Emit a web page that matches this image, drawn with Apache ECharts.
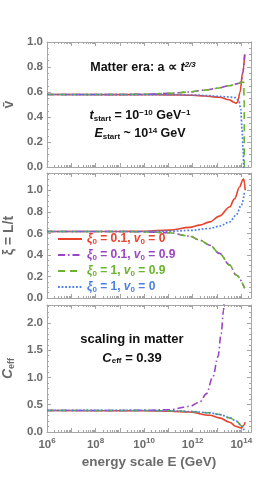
<!DOCTYPE html>
<html><head><meta charset="utf-8">
<script src="https://cdn.jsdelivr.net/npm/echarts@6/dist/echarts.min.js"></script>
<style>html,body{margin:0;padding:0;background:#fff}#c{width:266px;height:485px}</style>
</head><body><div id="c"></div>
<script>
// x values are log10(E / GeV)
const seriesNames = ['red', 'purple', 'green', 'blue'];
const vbarRed = [[6,0.58],[10,0.579],[11,0.577],[12,0.574],[12.5,0.568],[13.1,0.558],[13.5,0.538],[13.7,0.518],[13.77,0.51],[13.85,0.52],[13.95,0.6],[14.05,0.75],[14.14,0.9]];
const vbarPurple = [[6,0.58],[9,0.58],[10,0.582],[11,0.589],[11.87,0.6],[12.5,0.615],[13,0.63],[13.5,0.65],[13.85,0.667],[14.0,0.68],[14.07,0.76],[14.14,0.9]];
const vbarGreen = [[6,0.58],[9,0.58],[10,0.582],[11,0.589],[11.87,0.6],[12.5,0.615],[13,0.63],[13.5,0.65],[13.85,0.667],[14.0,0.675],[14.1,0.68],[14.12,0.5],[14.125,0],[14.125,-0.1]];
const vbarBlue = [[6,0.58],[11,0.579],[12,0.576],[12.5,0.572],[13,0.566],[13.5,0.56],[13.77,0.555],[13.9,0.53],[13.98,0.46],[14.03,0.3],[14.08,0.13],[14.1,0],[14.1,-0.1]];

const xiRed = [[6,0.617],[9,0.617],[10,0.62],[11.05,0.63],[11.87,0.655],[12.29,0.676],[12.7,0.706],[13.1,0.76],[13.52,0.845],[13.72,0.92],[13.93,1.03],[14.07,1.10],[14.1,1.105],[14.13,1.07],[14.16,1.0]];
const xiPurple = [[6,0.617],[9,0.617],[10,0.614],[11.05,0.605],[11.87,0.574],[12.29,0.537],[12.7,0.49],[13.1,0.414],[13.52,0.306],[13.79,0.213],[14.14,0.09]];
const xiGreen = [[6,0.617],[9,0.617],[10,0.614],[11.05,0.605],[11.87,0.574],[12.29,0.537],[12.7,0.49],[13.1,0.414],[13.52,0.306],[13.79,0.213],[14.14,0.09]];
const xiBlue = [[6,0.617],[10,0.617],[11.05,0.62],[11.87,0.627],[12.7,0.645],[13.1,0.667],[13.52,0.706],[13.79,0.77],[14.0,0.86],[14.14,0.99]];

const ceffRed = [[6,0.395],[10,0.39],[11.05,0.38],[11.87,0.367],[12.7,0.306],[13.1,0.26],[13.52,0.18],[13.79,0.10],[14.0,0.073],[14.09,0.12],[14.16,0.18]];
const ceffPurple = [[6,0.395],[9,0.395],[10,0.398],[11.05,0.41],[11.87,0.47],[12.29,0.55],[12.56,0.70],[12.83,1.01],[13.04,1.38],[13.17,1.8],[13.27,2.23],[13.3,2.5]];
const ceffGreen = [[6,0.395],[10,0.395],[11.05,0.39],[11.87,0.375],[12.7,0.35],[13.1,0.32],[13.52,0.26],[13.79,0.20],[14.04,0.10],[14.14,0.07]];
const ceffBlue = [[6,0.395],[10,0.395],[11.05,0.39],[11.87,0.376],[12.7,0.352],[13.1,0.322],[13.52,0.262],[13.79,0.2],[14.04,0.1],[14.12,0.04],[14.17,0]];

const xTickLabels = ['10', '6', '8', '10', '12', '14'];
const legendXi0 = ['0.1', '0.1', '1', '1'];
const legendV0 = ['0', '0.9', '0.9', '0'];

const colors = {red:'#E8432F', purple:'#9B44C4', green:'#6AB42D', blue:'#4C7FE6'};
const dashes = {red:'solid', purple:[7,3,1.5,3], green:[7,5], blue:[1.8,1.8]};
const GRAY = '#6b6b6b', FRAME = '#a6a6a6', FONT = 'Liberation Sans';

const grids = [
  {left:47, right:15, top:42, height:125, outerBoundsMode:'none', containLabel:false},
  {left:47, right:15, top:173, height:125, outerBoundsMode:'none', containLabel:false},
  {left:47, right:15, top:305, height:127, outerBoundsMode:'none', containLabel:false}
];
const yCfg = [
  {min:0, max:1.0, interval:0.2, minor:4, name:'v\u0304', gap:30, showMax:true},
  {min:0, max:1.16, interval:0.2, minor:4, name:'\u03BE = L/t', gap:30, showMax:false},
  {min:0, max:2.33, interval:0.5, minor:5, name:'{c|C}{cs|eff}', gap:28, showMax:false}
];
const minorX = [];
for (let d = 6; d <= 14; d++) for (let k = 2; k <= 9; k++) { const v = d + Math.log10(k); if (v < 14.4) minorX.push(v); }

const xAxes = [], yAxes = [];
grids.forEach((g, i) => {
  const last = i === 2;
  const base = {gridIndex:i, type:'value', min:6, max:14.4, interval:1, splitLine:{show:false}};
  xAxes.push(Object.assign({}, base, {
    position:'bottom',
    axisLine:{show:true, onZero:false, lineStyle:{color:FRAME, width:1}},
    axisTick:{show:true, inside:true, length:4, lineStyle:{color:FRAME}},
    axisLabel:{show:last, margin:5, showMaxLabel:false,
      formatter: v => (v % 2 === 0 && v <= 14) ? '{b|' + xTickLabels[0] + '}{s|' + xTickLabels[(v - 4) / 2] + '}' : '',
      rich:{b:{fontFamily:FONT, fontWeight:'bold', fontSize:11.5, color:GRAY},
            s:{fontFamily:FONT, fontWeight:'bold', fontSize:8, color:GRAY, padding:[0,0,7,0]}}},
    name: last ? 'energy scale E (GeV)' : '', nameLocation:'middle', nameGap:23,
    nameTextStyle:{fontFamily:FONT, fontWeight:'bold', fontSize:13.5, color:GRAY}
  }));
  xAxes.push(Object.assign({}, base, {
    position:'top', axisLine:{show:true, onZero:false, lineStyle:{color:FRAME}},
    axisTick:{show:true, inside:true, length:4, lineStyle:{color:FRAME}}, axisLabel:{show:false}
  }));
  ['bottom','top'].forEach(p => xAxes.push(Object.assign({}, base, {
    position:p, axisLine:{show:false, onZero:false},
    axisTick:{show:true, inside:true, length:2, customValues:minorX, lineStyle:{color:FRAME}}, axisLabel:{show:false}
  })));
  const c = yCfg[i];
  const yb = {gridIndex:i, type:'value', min:c.min, max:c.max, interval:c.interval, splitLine:{show:false}};
  yAxes.push(Object.assign({}, yb, {
    position:'left', axisLine:{show:true, onZero:false, lineStyle:{color:FRAME}},
    axisTick:{show:true, inside:true, length:4, lineStyle:{color:FRAME}},
    minorTick:{show:true, splitNumber:c.minor, length:2, lineStyle:{color:FRAME}},
    axisLabel:{margin:4, showMaxLabel:c.showMax, formatter: v => v.toFixed(1),
      fontFamily:FONT, fontWeight:'bold', fontSize:11.5, color:GRAY},
    name:c.name, nameLocation:'middle', nameGap:c.gap,
    nameTextStyle:{fontFamily:FONT, fontWeight:'bold', fontSize:14, color:GRAY,
      rich:{c:{fontFamily:FONT, fontWeight:'bold', fontStyle:'italic', fontSize:14, color:GRAY},
            cs:{fontFamily:FONT, fontWeight:'bold', fontSize:9, color:GRAY, padding:[6,0,0,0]}}}
  }));
  yAxes.push(Object.assign({}, yb, {
    position:'right', axisLine:{show:true, onZero:false, lineStyle:{color:FRAME}},
    axisTick:{show:true, inside:true, length:4, lineStyle:{color:FRAME}},
    minorTick:{show:true, splitNumber:c.minor, length:2, lineStyle:{color:FRAME}},
    axisLabel:{show:false}
  }));
});

const panelData = [
  {red:vbarRed, purple:vbarPurple, green:vbarGreen, blue:vbarBlue},
  {red:xiRed, purple:xiPurple, green:xiGreen, blue:xiBlue},
  {red:ceffRed, purple:ceffPurple, green:ceffGreen, blue:ceffBlue}
];
const series = [];
panelData.forEach((pd, i) => {
  seriesNames.forEach(n => series.push({
    name:n, type:'line', xAxisIndex:i*4, yAxisIndex:i*2, data:pd[n],
    showSymbol:false, symbol:'none', smooth:0.35, smoothMonotone:'x', clip:true, z: 3,
    lineStyle:{color:colors[n], width:n === 'blue' ? 1.7 : 1.6, type:dashes[n], cap:'butt'},
    itemStyle:{color:colors[n]}
  }));
});

const legendRich = {};
seriesNames.forEach(n => {
  legendRich[n + 'i'] = {fontFamily:FONT, fontWeight:'bold', fontStyle:'italic', fontSize:12, lineHeight:14, color:colors[n]};
  legendRich[n + 't'] = {fontFamily:FONT, fontWeight:'bold', fontSize:12, lineHeight:14, color:colors[n]};
  legendRich[n + 's'] = {fontFamily:FONT, fontWeight:'bold', fontSize:8, lineHeight:8, verticalAlign:'bottom', color:colors[n]};
});

const gText = (x, y, text, size) => ({type:'text', x, y, z:10, style:{text, x:0, y:0, align:'center', verticalAlign:'middle',
  fontFamily:FONT, fontWeight:'bold', fontSize:size, fill:'#111',
  rich:{t:{fontFamily:FONT, fontWeight:'bold', fontSize:size, fill:'#111'},
        i:{fontFamily:FONT, fontWeight:'bold', fontStyle:'italic', fontSize:size, fill:'#111'},
        s:{fontFamily:FONT, fontWeight:'bold', fontSize:8, fill:'#111', padding:[5,0,0,0]},
        si:{fontFamily:FONT, fontWeight:'bold', fontStyle:'italic', fontSize:8, fill:'#111', padding:[0,0,7,0]},
        p:{fontFamily:FONT, fontWeight:'bold', fontSize:8, fill:'#111', padding:[0,0,7,0]}}}});

const option = {
  animation:false, backgroundColor:'#fff',
  grid:grids, xAxis:xAxes, yAxis:yAxes, series,
  legend:{orient:'vertical', left:57, top:232, padding:0, itemWidth:24, itemHeight:10, itemGap:2,
    data:seriesNames, itemStyle:{opacity:0, borderWidth:0},
    formatter: name => { const k = seriesNames.indexOf(name);
      return '{' + name + 'i|\u03BE}{' + name + 's|0}{' + name + 't| = ' + legendXi0[k] + ', }{' + name + 'i|v}{' + name + 's|0}{' + name + 't| = ' + legendV0[k] + '}'; },
    textStyle:{rich:legendRich, lineHeight:14, padding:[0,0,0,0]}, selectedMode:false},
  graphic:[
    gText(143, 68, '{t|Matter era: a \u221D }{i|t}{si|2/3}', 12.5),
    gText(140, 116, '{i|t}{s|start}{t| = 10}{p|\u221210}{t| GeV}{p|\u22121}', 12.5),
    gText(140, 134, '{i|E}{s|start}{t| ~ 10}{p|14}{t| GeV}', 12.5),
    gText(132, 339, '{t|scaling in matter}', 13),
    gText(132, 358, '{i|C}{s|eff}{t| = 0.39}', 13)
  ]
};
const chart = echarts.init(document.getElementById('c'), null, {renderer:'canvas'});
chart.setOption(option);
</script></body></html>
